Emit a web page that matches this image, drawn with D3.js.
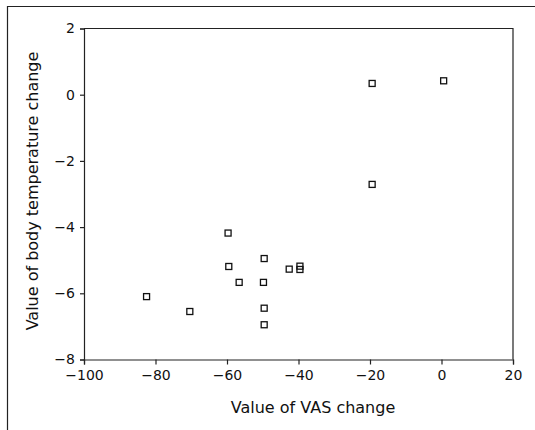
<!DOCTYPE html>
<html>
<head>
<meta charset="utf-8">
<script src="https://cdn.jsdelivr.net/npm/d3@7"></script>
<style>
  body { margin: 0; background: #fff; }
  svg { display: block; }
  .tick text { font-family: 'DejaVu Sans', sans-serif; font-size: 14px; fill: #111; }
</style>
</head>
<body>
<div class="container"></div>
<script>
// VAS change (x) vs body temperature change (y)
const vasChange = [-82.5, -70.4, -59.7, -59.5, -56.6, -49.6, -49.8, -49.6, -49.6, -42.6, -39.6, -39.6, -19.4, 0.6, -19.4]
const tempChange = [-6.1, -6.55, -4.18, -5.19, -5.67, -4.95, -5.67, -6.45, -6.95, -5.27, -5.18, -5.28, 0.34, 0.42, -2.71]
const xTicks = [-100, -80, -60, -40, -20, 0, 20]
const yTicks = [-8, -6, -4, -2, 0, 2]

const width = 535
const height = 430
const margin = { top: 28.5, right: 22, bottom: 70.5, left: 84 }

const points = vasChange.map((v, i) => ({ vas: v, temp: tempChange[i] }))

const svg = d3.select('.container')
  .append('svg')
  .attr('width', width)
  .attr('height', height)

// outer figure border (top and left edges of the scan)
svg.append('path')
  .attr('d', `M7.5,${height} V6.5 H${width}`)
  .attr('fill', 'none')
  .attr('stroke', '#222')
  .attr('stroke-width', 1.2)

const xScale = d3.scaleLinear()
  .domain([-100, 20])
  .range([margin.left, width - margin.right])

const yScale = d3.scaleLinear()
  .domain([-8, 2])
  .range([height - margin.bottom, margin.top])

// top and right frame lines
svg.append('path')
  .attr('d', `M${xScale(-100)},${yScale(2)} H${xScale(20)} V${yScale(-8)}`)
  .attr('fill', 'none')
  .attr('stroke', '#222')
  .attr('stroke-width', 1.2)

const fmt = (d) => d < 0 ? '\u2212' + Math.abs(d) : String(d)

svg.append('g')
  .attr('id', 'x-axis')
  .attr('transform', `translate(0, ${yScale(-8)})`)
  .call(d3.axisBottom(xScale).tickValues(xTicks).tickSize(5).tickPadding(6).tickFormat(fmt))
  .call((g) => g.selectAll('line, path').attr('stroke', '#222').attr('stroke-width', 1.2))

svg.append('g')
  .attr('id', 'y-axis')
  .attr('transform', `translate(${xScale(-100)}, 0)`)
  .call(d3.axisLeft(yScale).tickValues(yTicks).tickSize(4).tickPadding(5).tickFormat(fmt))
  .call((g) => g.selectAll('line, path').attr('stroke', '#222').attr('stroke-width', 1.2))

const size = 6
svg.append('g')
  .selectAll('rect')
  .data(points)
  .enter()
  .append('rect')
  .attr('x', (d) => xScale(d.vas) - size / 2)
  .attr('y', (d) => yScale(d.temp) - size / 2)
  .attr('width', size)
  .attr('height', size)
  .attr('fill', 'none')
  .attr('stroke', '#111')
  .attr('stroke-width', 1.3)

svg.append('text')
  .attr('id', 'x-label')
  .text('Value of VAS change')
  .attr('x', 313)
  .attr('y', 413)
  .attr('text-anchor', 'middle')
  .attr('font-family', 'DejaVu Sans, sans-serif')
  .attr('font-size', '16px')
  .attr('fill', '#111')

svg.append('text')
  .attr('id', 'y-label')
  .text('Value of body temperature change')
  .attr('transform', `translate(38, 191) rotate(-90)`)
  .attr('text-anchor', 'middle')
  .attr('font-family', 'DejaVu Sans, sans-serif')
  .attr('font-size', '16px')
  .attr('fill', '#111')
</script>
</body>
</html>
